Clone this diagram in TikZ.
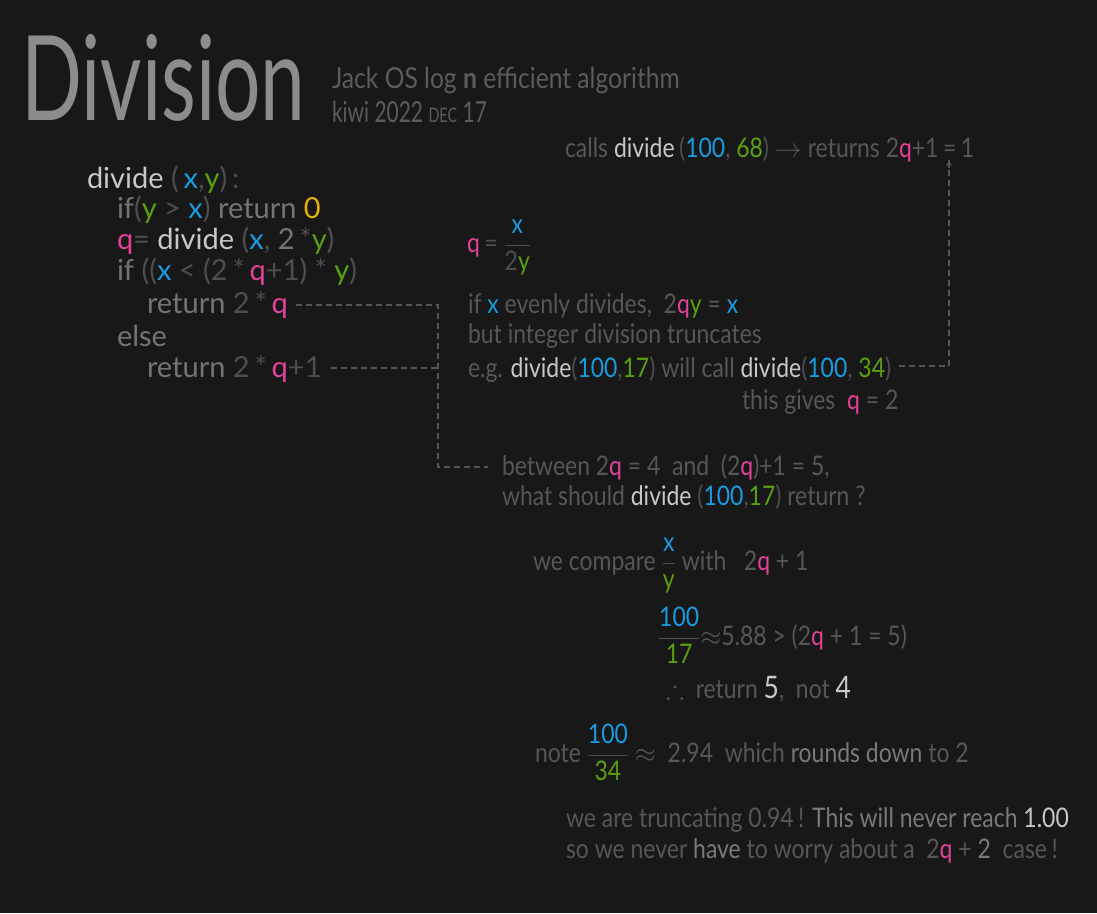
\RequirePackage{fix-cm}
\documentclass[tikz,border=0pt]{standalone}
\usepackage{fontspec}
\usepackage{amsmath,amssymb}
\usepackage{graphicx}
\usetikzlibrary{arrows.meta}
\setmainfont{Lato}
\newfontfamily\hand{Lato}[FakeStretch=0.85]

\definecolor{cBg}{HTML}{181818}
\definecolor{cTitle}{HTML}{8C8C8C}
\definecolor{cHead}{HTML}{5C5C5C}
\definecolor{cCode}{HTML}{747474}
\definecolor{cPun}{HTML}{4E4E4E}
\definecolor{cBody}{HTML}{575757}
\definecolor{cMid}{HTML}{7A7A7A}
\definecolor{cHi}{HTML}{C8C8C8}
\definecolor{cBlue}{HTML}{1A9BE0}
\definecolor{cGreen}{HTML}{5AA012}
\definecolor{cPink}{HTML}{E4429A}
\definecolor{cYellow}{HTML}{E2B008}
\definecolor{cDash}{HTML}{555555}

% inline colouring of the code and note text
\newcommand\tBl[1]{\textcolor{cBlue}{#1}}
\newcommand\tGr[1]{\textcolor{cGreen}{#1}}
\newcommand\tPk[1]{\textcolor{cPink}{#1}}
\newcommand\tYl[1]{\textcolor{cYellow}{#1}}
\newcommand\tHi[1]{\textcolor{cHi}{#1}}
\newcommand\tMd[1]{\textcolor{cMid}{#1}}
\newcommand\tPu[1]{\textcolor{cPun}{#1}}
\newcommand\tFr[2]{\textcolor{cPun}{$\dfrac{\text{#1}}{\text{#2}}$}}

\tikzset{
  txt/.style={anchor=base west, inner sep=0pt, outer sep=0pt},
  code/.style={txt, text=cCode, font=\rmfamily\fontsize{29}{32}\selectfont},
  body/.style={txt, text=cBody, font=\hand\fontsize{27}{30}\selectfont},
  head/.style={txt, text=cHead, font=\hand\fontsize{29}{30}\selectfont},
  dashline/.style={draw=cDash, line width=1.4pt, dash pattern=on 6pt off 4pt},
}

\begin{document}
\begin{tikzpicture}[x=1pt, y=-1pt]
\useasboundingbox (0,0) rectangle (1097,913);
\fill[cBg] (0,0) rectangle (1097,913);

% heading
\node[txt, text=cTitle, font=\fontsize{118}{118}\selectfont] (title) at (21,120) {\scalebox{0.68}[1]{Division}};
\node[head] (sub1) at (332,88) {Jack OS log \textbf{n} efficient algorithm};
\node[head] (sub2) at (332,122) {\scalebox{0.85}[1]{kiwi 2022 {\fontsize{20}{20}\selectfont DEC} 17}};

% the recursive routine
\node[code] (c1) at (87,188) {\tHi{divide} \tPu{(}\,\tBl{x}\tPu{,}\tGr{y}\tPu{)\,:}};
\node[code] (c2) at (117,218) {if\tPu{(}\tGr{y} \tPu{>} \tBl{x}\tPu{)} return \tYl{0}};
\node[code] (c3) at (117,249) {\tPk{q}\tPu{=} \tHi{divide} \tPu{(}\tBl{x}\tPu{,} 2\,\tPu{*}\tGr{y}\tPu{)}};
\node[code] (c4) at (117,280) {if \tPu{((}\tBl{x} \tPu{<} \tPu{(2\,*\,}\tPk{q}\tPu{+1)} \tPu{*} \tGr{y}\tPu{)}};
\node[code] (c5) at (147,313) {return \tPu{2\,*\,}\tPk{q}};
\node[code] (c6) at (117,346) {else};
\node[code] (c7) at (147,377) {return \tPu{2\,*\,}\tPk{q}\tPu{+1}};

% top call line
\node[body] (calls) at (565,157) {calls \tHi{divide}\,\tPu{(}\tBl{100}\tPu{,} \tGr{68}\tPu{)} $\to$ returns 2\tPk{q}+1\,=\,1};

% explanation
\node[body] (qdef) at (467,252) {\tPk{q}\tPu{\,=} \tFr{\tBl{x}}{2\tGr{y}}};
\node[body] (r1) at (468,313) {if \tBl{x} evenly divides, \ 2\tPk{q}\tGr{y} = \tBl{x}};
\node[body] (r2) at (468,343) {but integer division truncates};
\node[body] (r3) at (468,377) {e.g. \tHi{divide}\tPu{(}\tBl{100}\tPu{,}\tGr{17}\tPu{)} will call \tHi{divide}\tPu{(}\tBl{100}\tPu{,} \tGr{34}\tPu{)}};
\node[body] (r4) at (742,409) {this gives \ \tPk{q} = 2};
\node[body] (r5) at (502,475) {between 2\tPk{q} = 4 \ and \ (2\tPk{q})+1 = 5,};
\node[body] (r6) at (502,505) {what should \tHi{divide} \tPu{(}\tBl{100}\tPu{,}\tGr{17}\tPu{)} return ?};
\node[body] (r7) at (533,570) {we compare \tFr{\tBl{x}}{\tGr{y}} with \ \ 2\tPk{q} + 1};
\node[body] (r8) at (658,645) {\tFr{\tBl{100}}{\tGr{17}}$\approx$5.88 > (2\tPk{q} + 1 = 5)};
\node[body] (r9) at (666,698) {$\therefore$ \ return \tHi{\fontsize{31}{31}\selectfont 5}, \ not \tHi{\fontsize{31}{31}\selectfont 4}};
\node[body] (r10) at (535,762) {note \tFr{\tBl{100}}{\tGr{34}} $\approx$ \ 2.94 \ which \tMd{rounds down} to 2};
\node[body] (r11) at (566,827) {we are truncating 0.94\,! \tMd{This will never reach} \tHi{1.00}};
\node[body] (r12) at (566,858) {so we never \tMd{have} to worry about a \ 2\tPk{q} + \tMd{2} \ case\,!};

% dashed connectors
\coordinate (jx) at (438,0);
\coordinate (ux) at (949,0);
\coordinate (callin) at (949,160);
\draw[dashline] ([xshift=8pt,yshift=8pt]c5.base east) -- ([yshift=8pt]c5.base east -| jx) |- ([xshift=-14pt,yshift=8pt]r5.base west);
\draw[dashline] ([xshift=9pt,yshift=9pt]c7.base east) -- ([yshift=9pt]c7.base east -| jx);
\draw[dashline] ([xshift=8pt,yshift=11pt]r3.base east) -- ([yshift=11pt]r3.base east -| ux) -- (callin);
\draw[draw=cDash, line width=1.4pt, -{Stealth[length=6pt,width=6pt]}] ([yshift=-8pt]callin) -- (callin);
\end{tikzpicture}
\end{document}
